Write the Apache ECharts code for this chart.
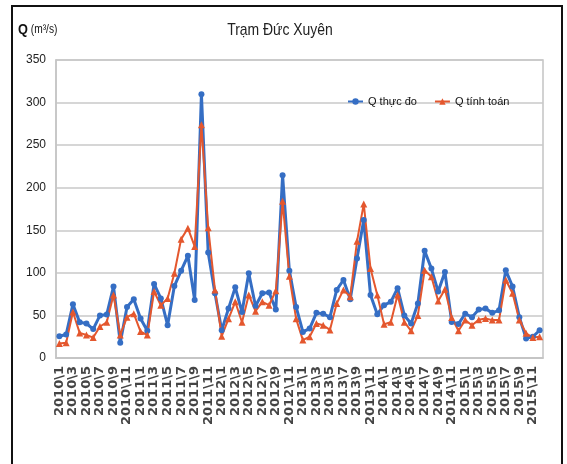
<!DOCTYPE html>
<html>
<head>
<meta charset="utf-8">
<script src="https://cdn.jsdelivr.net/npm/echarts@6/dist/echarts.min.js"></script>
<style>
  html, body { margin: 0; padding: 0; background: #fff; }
  #chart { width: 567px; height: 464px; }
</style>
</head>
<body>
<div id="chart"></div>
<script>
// nhan truc hoanh: 2010\1 ... 2015\12
var years = [2010, 2011, 2012, 2013, 2014, 2015];
var months = [1, 2, 3, 4, 5, 6, 7, 8, 9, 10, 11, 12];
var categories = [];
years.forEach(function (y) {
    months.forEach(function (m) { categories.push(y + '\\' + m); });
});

// Q thuc do (m3/s)
var qThucDo = [
    25.6, 27.6, 63, 42, 40.5, 34, 50, 51, 84, 18, 60, 69,
    46.5, 32, 87, 70, 38.5, 84.5, 102.6, 120, 68, 309.7, 124, 76,
    32.6, 58, 83, 54, 99.5, 61, 76, 77, 57, 214.6, 102.6, 60,
    30.6, 34.6, 53, 52, 48, 80, 91.6, 69, 117, 162, 74, 51.5,
    62, 66, 82, 50, 40.5, 64, 126, 105, 78, 101, 42.4, 40,
    52, 48, 57, 58, 53, 56, 103, 84, 48, 23, 25, 32.6
];
// Q tinh toan (m3/s)
var qTinhToan = [
    17, 18, 54, 29.5, 27, 24, 37, 42, 74, 27, 48, 52,
    31, 27, 78, 62, 70, 99.5, 139.6, 152.5, 131, 274, 153, 80,
    25.6, 46, 66, 42, 74, 55, 66, 62, 79, 184, 96, 46,
    21, 25, 40.5, 38.5, 33, 64, 80, 72, 137, 181, 105, 74,
    39.7, 42, 74, 42, 32, 50, 103, 95.5, 67, 80.6, 47.6, 32,
    44.5, 38.5, 45, 46.5, 44.5, 44.5, 91.6, 76, 44.5, 29, 24, 25
];

var myChart = echarts.init(document.getElementById('chart'));
var font = "'Liberation Sans', Arial, sans-serif";

var option = {
    backgroundColor: '#fff',
    animation: false,
    graphic: [
        {
            type: 'rect',
            shape: { x: 12, y: 6, width: 550, height: 470 },
            style: { fill: 'none', stroke: '#111', lineWidth: 2 }
        },
        // tieu de (hep lai nhu ban goc)
        {
            type: 'text',
            x: 280,
            y: 30,
            scaleX: 0.82,
            style: {
                text: 'Trạm Đức Xuyên',
                font: '17px ' + font,
                fill: '#222',
                textAlign: 'center',
                textVerticalAlign: 'middle'
            }
        },
        {
            type: 'text',
            x: 18,
            y: 30,
            scaleX: 0.85,
            style: {
                text: '{q|Q} {u|(m³/s)}',
                textVerticalAlign: 'middle',
                rich: {
                    q: { fontFamily: font, fontSize: 15, fontWeight: 'bold', fill: '#111' },
                    u: { fontFamily: font, fontSize: 12, fill: '#111' }
                }
            }
        }
    ],
    legend: {
        left: 342,
        top: 91,
        itemGap: 17,
        itemWidth: 15,
        itemHeight: 8,
        textStyle: { fontFamily: font, fontSize: 11, color: '#111' },
        data: ['Q thực đo', 'Q tính toán']
    },
    grid: {
        left: 56,
        right: 24,
        top: 60,
        bottom: 106,
        show: true,
        borderColor: '#c4c4c4',
        borderWidth: 1.5
    },
    xAxis: {
        type: 'category',
        data: categories,
        boundaryGap: true,
        axisLine: { lineStyle: { color: '#c4c4c4', width: 1.5 } },
        axisTick: { show: false },
        axisLabel: {
            interval: 1,
            rotate: 90,
            margin: 8,
            fontFamily: 'DejaVu Sans',
            fontWeight: 'bold',
            fontSize: 13,
            color: '#444'
        }
    },
    yAxis: {
        type: 'value',
        min: 0,
        max: 350,
        interval: 50,
        axisLine: { show: true, lineStyle: { color: '#c4c4c4', width: 1.5 } },
        axisTick: { show: false },
        axisLabel: { fontFamily: font, fontSize: 12, color: '#222', margin: 10 },
        splitLine: { lineStyle: { color: '#c8c8c8', width: 1.5 } }
    },
    series: [
        {
            name: 'Q thực đo',
            type: 'line',
            data: qThucDo,
            symbol: 'circle',
            symbolSize: 6,
            showAllSymbol: true,
            color: '#356ec4',
            lineStyle: { width: 3 }
        },
        {
            name: 'Q tính toán',
            type: 'line',
            data: qTinhToan,
            symbol: 'triangle',
            symbolSize: 7,
            showAllSymbol: true,
            color: '#e4572e',
            lineStyle: { width: 2 }
        }
    ]
};

myChart.setOption(option);
window.addEventListener('resize', function () { myChart.resize(); });
</script>
</body>
</html>
